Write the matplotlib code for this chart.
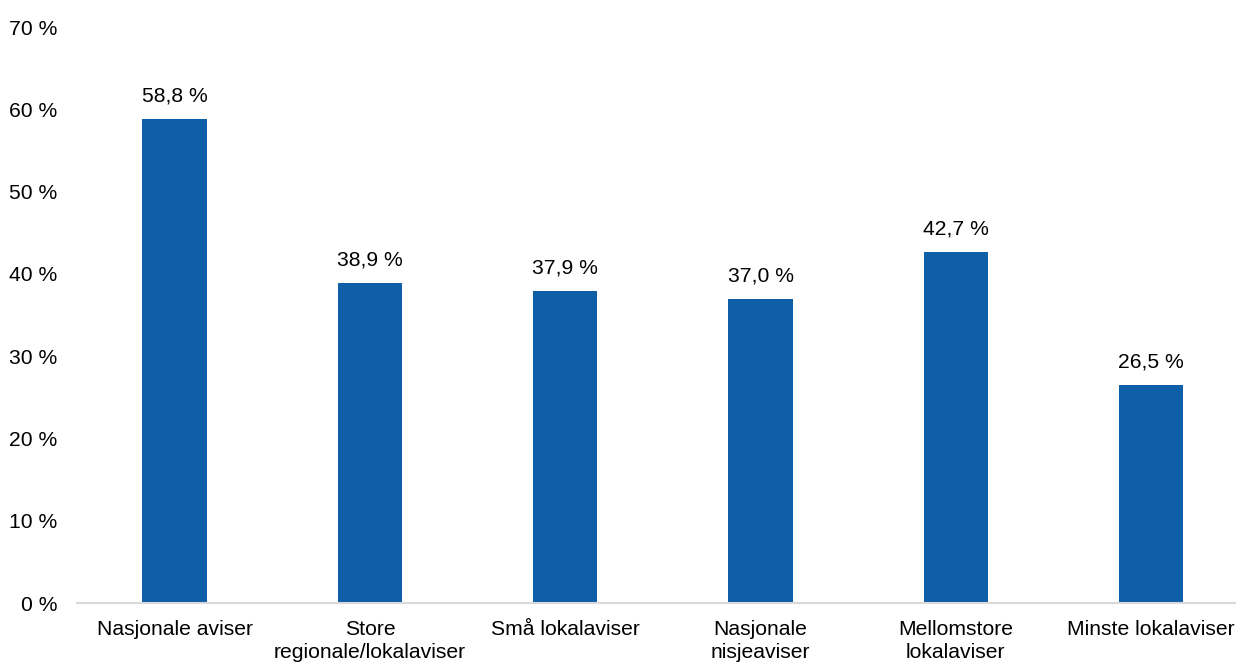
import numpy as np
import matplotlib.pyplot as plt

plt.rcParams['font.family'] = ['Liberation Sans', 'DejaVu Sans']

categories = ["Nasjonale aviser", "Store\nregionale/lokalaviser", "Små lokalaviser",
              "Nasjonale\nnisjeaviser", "Mellomstore\nlokalaviser", "Minste lokalaviser"]
values = [58.8, 38.9, 37.9, 37.0, 42.7, 26.5]
yticks = [0, 10, 20, 30, 40, 50, 60, 70]

fs = 15.2

fig = plt.figure(figsize=(12.36, 6.62), dpi=100)
ax = fig.add_axes([0.0623, 0.0891, 0.948, 0.8701])

x = np.arange(len(categories))
bars = ax.bar(x, values, width=0.33, color="#0e5ea8", zorder=2)

for xi, v in zip(x, values):
    ax.annotate(f"{v:.1f} %".replace(".", ","), (xi, v), xytext=(0, 9.5),
                textcoords="offset points", ha="center", va="bottom",
                fontsize=fs, color="#000000")

ax.set_xlim(-0.5, len(categories) - 0.5)
ax.set_ylim(0, 70)
ax.set_yticks(yticks)
ax.set_yticklabels([f"{t} %" for t in yticks])
ax.set_xticks(x)
ax.set_xticklabels(categories, linespacing=1.3)
ax.tick_params(axis="y", length=0, pad=14, labelsize=fs)
ax.tick_params(axis="x", length=0, pad=12, labelsize=fs)

for side in ["top", "right", "left"]:
    ax.spines[side].set_visible(False)
ax.spines["bottom"].set_color("#d9d9d9")
ax.spines["bottom"].set_linewidth(1.5)

fig.savefig("out.png", dpi=100)
